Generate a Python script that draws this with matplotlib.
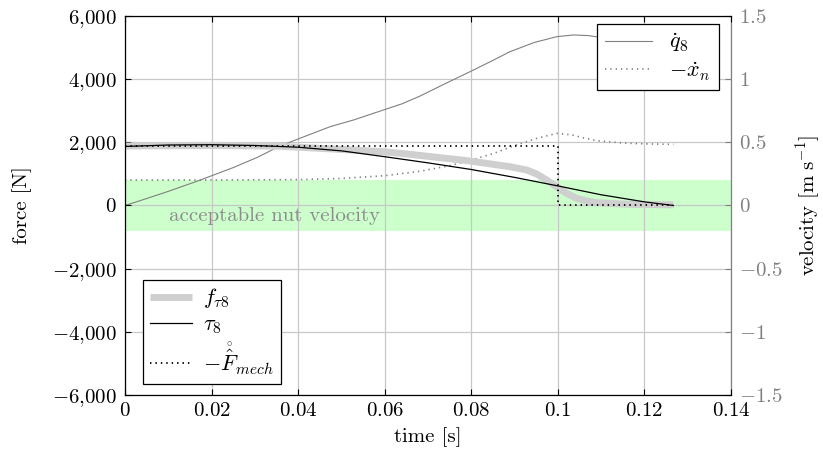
import matplotlib
matplotlib.use("Agg")
import matplotlib.pyplot as plt
from matplotlib.ticker import FuncFormatter

FS = 15
plt.rcParams['font.family'] = 'serif'
plt.rcParams['font.serif'] = ['cmr10']
plt.rcParams['mathtext.fontset'] = 'cm'
plt.rcParams['axes.formatter.use_mathtext'] = True
plt.rcParams['font.size'] = FS

# ---------------- data ----------------
t_q8 = [0, 0.005, 0.01, 0.0168, 0.025, 0.0305, 0.0358, 0.042, 0.0474, 0.0528, 0.0597, 0.064,
        0.0682, 0.074, 0.0797, 0.0845, 0.0889, 0.0945, 0.0997, 0.1036, 0.107, 0.11, 0.115,
        0.12, 0.1267]
q8 = [0, 0.055, 0.112, 0.194, 0.30, 0.38, 0.471, 0.553, 0.624, 0.677, 0.756, 0.805,
      0.867, 0.965, 1.059, 1.14, 1.217, 1.29, 1.336, 1.35, 1.345, 1.33, 1.30,
      1.26, 1.22]

t_xn = [0, 0.02, 0.04, 0.05, 0.06, 0.068, 0.075, 0.08, 0.085, 0.09, 0.095, 0.0997, 0.103,
        0.106, 0.109, 0.115, 0.12, 0.1267]
xn = [0.202, 0.202, 0.205, 0.214, 0.236, 0.27, 0.315, 0.36, 0.41, 0.475, 0.53, 0.571, 0.56,
      0.535, 0.513, 0.495, 0.488, 0.484]

t_f = [0, 0.02, 0.035, 0.045, 0.0597, 0.0658, 0.0797, 0.0889, 0.0928, 0.0951, 0.0974, 0.0997,
       0.102, 0.1043, 0.1067, 0.109, 0.116, 0.1267]
f_tau8 = [1884, 1900, 1880, 1810, 1704, 1621, 1409, 1229, 1124, 997, 807, 595,
          386, 228, 142, 89, 40, 20]

t_tau = [0, 0.01, 0.02, 0.03, 0.04, 0.05, 0.06, 0.07, 0.08, 0.09, 0.1, 0.11, 0.12, 0.1267]
tau8 = [1870, 1915, 1925, 1900, 1845, 1730, 1545, 1350, 1140, 890, 620, 340, 115, 0]

t_fm = [0, 0.1, 0.1267]
f_mech = [1884, 0, 0]

band_v = 0.2  # acceptable nut velocity (m/s)

x_ticks = [0, 0.02, 0.04, 0.06, 0.08, 0.1, 0.12, 0.14]
f_ticks = [-6000, -4000, -2000, 0, 2000, 4000, 6000]
v_ticks = [-1.5, -1, -0.5, 0, 0.5, 1, 1.5]

GRAY = '#808080'

fig = plt.figure(figsize=(8.23, 4.57), dpi=100)
ax1 = fig.add_axes([125/823, 62/457, 606/823, 379/457])
ax2 = ax1.twinx()
ax1.set_zorder(ax2.get_zorder() + 1)
ax1.patch.set_visible(False)

ax1.set_xlim(0, 0.14)
ax1.set_ylim(-6000, 6000)
ax2.set_ylim(-1.5, 1.5)

ax2.axhspan(-band_v, band_v, color='#ccffcc', lw=0, zorder=1)
for xv in x_ticks:
    ax2.axvline(xv, color='#c8c8c8', lw=0.9, zorder=1.5)
for yv in v_ticks:
    ax2.axhline(yv, color='#c8c8c8', lw=0.9, zorder=1.5)
ax2.text(0.0102, -0.08, 'acceptable nut velocity', color='#8c8c8c', ha='left', va='center',
         fontsize=FS, zorder=2)

l_q8, = ax2.plot(t_q8, q8, color=GRAY, lw=0.8, zorder=3)
l_xn, = ax2.plot(t_xn, xn, color=GRAY, lw=1.2, linestyle=(0, (0.8, 2.4)), zorder=3)

l_f, = ax1.plot(t_f, f_tau8, color='#cfcfcf', lw=5, solid_capstyle='butt', zorder=2)
l_tau, = ax1.plot(t_tau, tau8, color='black', lw=0.9, zorder=3)
l_fm, = ax1.plot(t_fm, f_mech, color='black', lw=1.3, linestyle=(0, (0.8, 2.2)),
                 drawstyle='steps-post', zorder=3)

def fmt_force(v, pos):
    s = f"{abs(int(round(v))):,}".replace(',', '{,}')
    return r'$' + ('-' if v < 0 else '') + s + r'$'

def fmt_vel(v, pos):
    s = f"{abs(v):g}"
    return r'$' + ('-' if v < 0 else '') + s + r'$'

def fmt_x(v, pos):
    return r'$' + f"{v:g}" + r'$'

ax1.set_xticks(x_ticks)
ax1.set_yticks(f_ticks)
ax2.set_yticks(v_ticks)
ax1.xaxis.set_major_formatter(FuncFormatter(fmt_x))
ax1.yaxis.set_major_formatter(FuncFormatter(fmt_force))
ax2.yaxis.set_major_formatter(FuncFormatter(fmt_vel))

ax1.tick_params(axis='x', which='both', direction='in', top=True, bottom=True, length=4,
                width=0.8, color='black', labelsize=FS, pad=5)
ax1.tick_params(axis='y', which='both', direction='in', left=True, right=False, length=4,
                width=0.8, color='black', labelsize=FS, pad=6)
ax2.tick_params(axis='y', which='both', direction='in', right=True, left=False, length=4,
                width=0.8, color=GRAY, labelcolor=GRAY, labelsize=FS, pad=6)

for s in ['left', 'top', 'bottom']:
    ax1.spines[s].set_color('black')
    ax1.spines[s].set_linewidth(0.9)
ax1.spines['right'].set_visible(False)
for s in ['left', 'top', 'bottom']:
    ax2.spines[s].set_visible(False)
ax2.spines['right'].set_color(GRAY)
ax2.spines['right'].set_linewidth(0.9)

ax1.set_xlabel('time [s]', fontsize=FS, labelpad=5)
ax1.set_ylabel('force [N]', fontsize=FS, labelpad=14)
ax2.set_ylabel(r'velocity [$\mathrm{m\ s^{-1}}$]', fontsize=FS, labelpad=8)

leg2 = ax2.legend([l_q8, l_xn], [r'$\dot{q}_8$', r'$-\dot{x}_n$'], loc='upper right',
                  bbox_to_anchor=(0.98, 0.98), borderaxespad=0, fancybox=False,
                  edgecolor='black', framealpha=1, fontsize=16, handlelength=2.1,
                  labelspacing=0.25, borderpad=0.35, handletextpad=0.8)
leg2.get_frame().set_linewidth(0.9)
leg2.set_zorder(10)

leg1 = ax1.legend([l_f, l_tau, l_fm], [r'$f_{\tau 8}$', r'$\tau_8$', r'$-\mathring{\hat{F}}_{mech}$'],
                  loc='lower left', bbox_to_anchor=(0.03, 0.03), borderaxespad=0,
                  fancybox=False, edgecolor='black', framealpha=1, fontsize=16,
                  handlelength=1.9, labelspacing=0.2, borderpad=0.3, handletextpad=0.5)
leg1.get_frame().set_linewidth(0.9)

fig.savefig('out.png', dpi=100)
